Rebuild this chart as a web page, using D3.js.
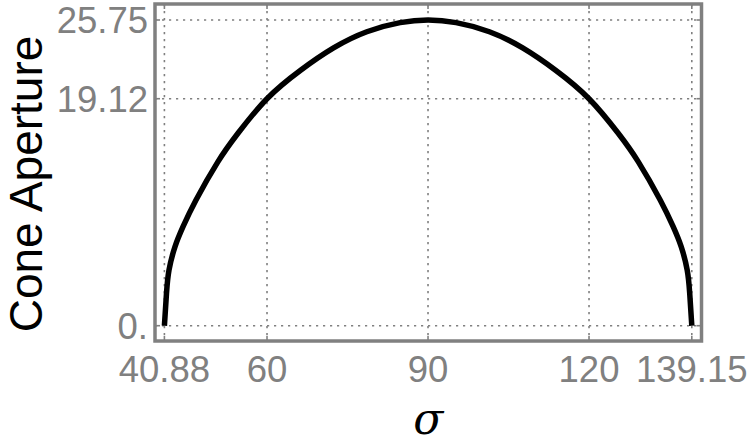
<!DOCTYPE html>
<html>
<head>
<meta charset="utf-8">
<script src="https://cdn.jsdelivr.net/npm/d3@7"></script>
<style>
  html, body { margin: 0; padding: 0; background: #fff; }
  svg { display: block; }
</style>
</head>
<body>
<svg id="chart" width="750" height="446"></svg>
<script>
// ---- data ----
const sigma = [40.88, 41.27, 41.74, 42.86, 44.35, 46.77, 50.87, 54.59, 60, 66.2, 72.4, 78.6, 84.8, 90.015,
               95.23, 101.43, 107.63, 113.83, 120, 125.44, 129.16, 133.26, 135.68, 137.17, 138.29, 138.76, 139.15];
const aperture = [0, 2.73, 4.69, 6.66, 8.34, 10.59, 13.82, 16.21, 19.12, 21.5, 23.4, 24.76, 25.53, 25.75,
                  25.53, 24.76, 23.4, 21.5, 19.12, 16.21, 13.82, 10.59, 8.34, 6.66, 4.69, 2.73, 0];
const xTicks = [40.88, 60, 90, 120, 139.15];
const xTickLabels = ["40.88", "60", "90", "120", "139.15"];
const yTicks = [0, 19.12, 25.75];
const yTickLabels = ["0.", "19.12", "25.75"];
const xTitle = "σ";
const yTitle = "Cone Aperture";

// ---- layout ----
const svg = d3.select("#chart");
const frame = { left: 155, right: 701.5, top: 4, bottom: 341 };
const x = d3.scaleLinear().domain([40.88, 139.15]).range([164.4, 691.8]);
const y = d3.scaleLinear().domain([0, 25.75]).range([325.7, 20]);
const gray = "#808080";
const font = "'Liberation Sans', Arial, Helvetica, sans-serif";

// grid lines
const grid = svg.append("g")
  .attr("stroke", gray).attr("stroke-width", 1.6)
  .attr("stroke-dasharray", "2.2,4.8").attr("fill", "none");
grid.selectAll("line.v").data(xTicks).enter().append("line")
  .attr("x1", d => x(d)).attr("x2", d => x(d))
  .attr("y1", frame.top).attr("y2", frame.bottom);
grid.selectAll("line.h").data(yTicks).enter().append("line")
  .attr("y1", d => y(d)).attr("y2", d => y(d))
  .attr("x1", frame.left).attr("x2", frame.right);

// curve
const line = d3.line()
  .x((d, i) => x(sigma[i]))
  .y(d => y(d))
  .curve(d3.curveNatural);
svg.append("path")
  .datum(aperture)
  .attr("d", line)
  .attr("fill", "none")
  .attr("stroke", "#000")
  .attr("stroke-width", 5.5)
  .attr("stroke-linejoin", "round");

// frame
svg.append("rect")
  .attr("x", frame.left).attr("y", frame.top)
  .attr("width", frame.right - frame.left)
  .attr("height", frame.bottom - frame.top)
  .attr("fill", "none").attr("stroke", gray).attr("stroke-width", 3.5);

// small inward ticks
const ticks = svg.append("g").attr("stroke", gray).attr("stroke-width", 1.6);
xTicks.forEach(t => {
  ticks.append("line").attr("x1", x(t)).attr("x2", x(t)).attr("y1", frame.bottom).attr("y2", frame.bottom - 5);
  ticks.append("line").attr("x1", x(t)).attr("x2", x(t)).attr("y1", frame.top).attr("y2", frame.top + 5);
});
yTicks.forEach(t => {
  ticks.append("line").attr("y1", y(t)).attr("y2", y(t)).attr("x1", frame.left).attr("x2", frame.left + 5);
  ticks.append("line").attr("y1", y(t)).attr("y2", y(t)).attr("x1", frame.right).attr("x2", frame.right - 5);
});

// tick labels
svg.append("g").selectAll("text").data(xTicks).enter().append("text")
  .attr("x", d => x(d)).attr("y", 382)
  .attr("text-anchor", "middle")
  .attr("font-family", font).attr("font-size", 36.5).attr("fill", gray)
  .text((d, i) => xTickLabels[i]);
svg.append("g").selectAll("text").data(yTicks).enter().append("text")
  .attr("x", 148).attr("y", d => y(d) + 13)
  .attr("text-anchor", "end")
  .attr("font-family", font).attr("font-size", 36.5).attr("fill", gray)
  .text((d, i) => yTickLabels[i]);

// axis titles
svg.append("text")
  .attr("x", (frame.left + frame.right) / 2).attr("y", 434)
  .attr("text-anchor", "middle")
  .attr("font-family", "'DejaVu Serif', 'Liberation Serif', serif")
  .attr("font-style", "italic")
  .attr("font-size", 44).attr("fill", "#000")
  .text(xTitle);
svg.append("text")
  .attr("transform", "translate(42,184) rotate(-90)")
  .attr("text-anchor", "middle")
  .attr("font-family", font).attr("font-size", 46).attr("fill", "#000")
  .text(yTitle);
</script>
</body>
</html>
